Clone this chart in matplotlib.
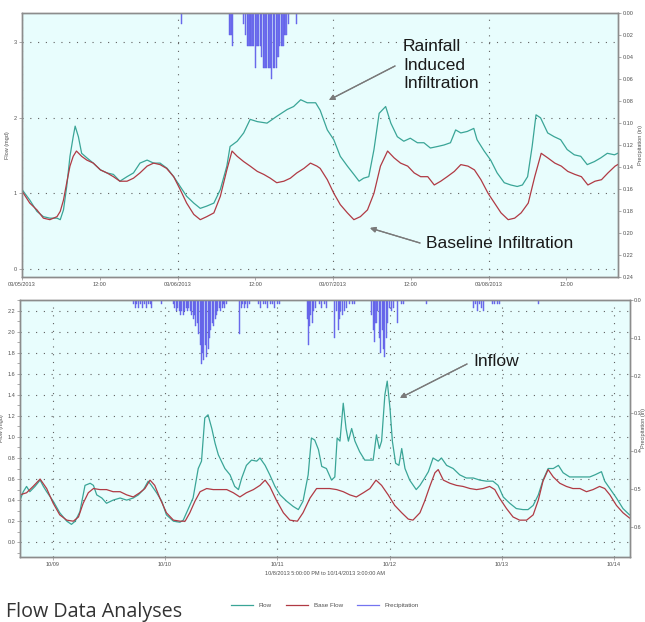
import matplotlib
matplotlib.use("Agg")
import matplotlib.pyplot as plt
from matplotlib.lines import Line2D
from matplotlib.ticker import FixedLocator, MultipleLocator, FormatStrFormatter

# ---------------- data: top panel (hours since 03/05/2013 00:00) ----------------
top_flow_hours = [0, 1.2, 2.3, 3.3, 4.3, 5.4, 5.9, 6.4, 6.9, 7.4, 7.9, 8.2, 8.7, 9.2, 10.0, 11.0, 12.1, 13.1,
                  14.1, 15.1, 16.2, 17.2, 18.2, 19.3, 20.3, 21.3, 22.4, 23.4, 24.4, 25.4, 26.5, 27.5, 28.5,
                  29.6, 30.6, 31.6, 32.1, 33.2, 34.2, 35.2, 36.3, 37.8, 39.3, 40.9, 41.9, 43.0, 44.0, 45.3,
                  46.0, 47.1, 48.1, 49.1, 50.2, 51.2, 52.0, 52.7, 53.5, 54.3, 55.1, 56.1, 56.9, 57.9, 58.9,
                  59.9, 61.0, 62.0, 63.0, 64.1, 65.1, 66.1, 66.9, 67.7, 68.7, 69.7, 70.2, 71.3, 72.3, 73.3,
                  74.4, 75.4, 76.4, 77.2, 78.0, 78.7, 79.3, 80.0, 81.1, 82.1, 83.1, 84.1, 85.2, 86.2, 87.2,
                  88.3, 89.3, 90.3, 91.4, 91.9]
top_flow = [1.05, 0.91, 0.76, 0.69, 0.67, 0.67, 0.65, 0.78, 1.09, 1.49, 1.75, 1.89, 1.75, 1.53, 1.47, 1.40,
            1.31, 1.27, 1.25, 1.16, 1.22, 1.27, 1.40, 1.44, 1.40, 1.40, 1.33, 1.22, 1.09, 0.96, 0.87, 0.80,
            0.83, 0.87, 1.05, 1.36, 1.62, 1.69, 1.80, 1.98, 1.95, 1.93, 2.02, 2.11, 2.15, 2.24, 2.20, 2.20,
            2.10, 1.84, 1.71, 1.49, 1.36, 1.25, 1.16, 1.20, 1.22, 1.58, 2.06, 2.15, 1.93, 1.75, 1.69, 1.73,
            1.67, 1.67, 1.60, 1.62, 1.64, 1.67, 1.84, 1.80, 1.82, 1.86, 1.71, 1.56, 1.44, 1.27, 1.14, 1.11,
            1.09, 1.11, 1.22, 1.62, 2.04, 2.00, 1.80, 1.75, 1.71, 1.58, 1.51, 1.49, 1.38, 1.42, 1.47, 1.53,
            1.51, 1.53]
top_base_hours = [0, 1.2, 2.3, 3.3, 4.3, 5.4, 5.9, 6.4, 6.9, 7.4, 7.9, 8.4, 9.2, 10.0, 11.0, 12.1, 13.1, 14.1,
                  15.1, 16.2, 17.2, 18.2, 19.3, 20.3, 21.3, 22.3, 23.4, 24.4, 25.4, 26.5, 27.5, 28.5, 29.6,
                  30.6, 31.6, 32.4, 33.2, 34.2, 35.2, 36.3, 37.3, 38.3, 39.3, 40.4, 41.4, 42.4, 43.5, 44.5,
                  45.5, 46.0, 47.1, 48.1, 49.1, 50.2, 51.2, 52.2, 53.3, 54.3, 55.3, 56.4, 57.4, 58.4, 59.5,
                  60.5, 61.5, 62.6, 63.6, 64.6, 65.6, 66.7, 67.7, 68.8, 69.8, 70.8, 71.9, 72.9, 73.9, 75.0,
                  76.0, 77.0, 78.1, 79.1, 80.1, 81.1, 82.2, 83.2, 84.2, 85.3, 86.3, 87.3, 88.4, 89.4, 90.4,
                  91.5, 91.9]
top_base = [1.03, 0.87, 0.78, 0.67, 0.65, 0.69, 0.76, 0.91, 1.14, 1.36, 1.49, 1.56, 1.49, 1.44, 1.40, 1.31,
            1.27, 1.22, 1.16, 1.16, 1.20, 1.27, 1.36, 1.40, 1.38, 1.33, 1.22, 1.05, 0.87, 0.72, 0.65, 0.69,
            0.74, 0.96, 1.31, 1.56, 1.49, 1.42, 1.36, 1.29, 1.25, 1.20, 1.14, 1.16, 1.20, 1.27, 1.33, 1.40,
            1.36, 1.33, 1.18, 1.00, 0.85, 0.74, 0.65, 0.69, 0.78, 1.00, 1.36, 1.56, 1.47, 1.40, 1.36, 1.27,
            1.22, 1.22, 1.11, 1.16, 1.22, 1.29, 1.38, 1.36, 1.31, 1.18, 1.00, 0.87, 0.74, 0.65, 0.67, 0.74,
            0.87, 1.22, 1.53, 1.47, 1.40, 1.36, 1.29, 1.25, 1.22, 1.11, 1.16, 1.18, 1.27, 1.36, 1.38]
top_precip_hours = [24.6, 32.0, 32.25, 32.5, 34.2, 34.5, 34.75, 35.0, 35.25, 35.5, 35.75, 36.0, 36.25, 36.5,
                    36.75, 37.0, 37.25, 37.5, 37.75, 38.0, 38.25, 38.5, 38.75, 39.0, 39.25, 39.5, 39.75,
                    40.0, 40.25, 40.5, 40.75, 41.1, 42.3]
top_precip = [0.01, 0.02, 0.02, 0.03, 0.01, 0.02, 0.03, 0.03, 0.03, 0.03, 0.03, 0.05, 0.03, 0.03, 0.03, 0.04,
              0.05, 0.05, 0.05, 0.05, 0.05, 0.06, 0.05, 0.05, 0.05, 0.04, 0.03, 0.03, 0.03, 0.02, 0.02, 0.01,
              0.01]
top_day_ticks = [0, 24, 48, 72]
top_day_labels = ["03/05/2013", "03/06/2013", "03/07/2013", "03/08/2013"]
top_noon_ticks = [12, 36, 60, 84]
top_noon_labels = ["12:00", "12:00", "12:00", "12:00"]

# ---------------- data: bottom panel (hours since 10/8/2013 17:00) ----------------
bot_flow_hours = [0, 0.7, 1.4, 2.1, 3.2, 4.3, 5.0, 5.7, 7.1, 8.5, 10.0, 11.0, 11.8, 12.8, 13.9, 15.0, 15.7,
                  16.4, 17.5, 18.5, 19.9, 21.4, 22.8, 24.2, 25.3, 26.4, 27.4, 28.1, 29.2, 30.3, 31.3, 32.8,
                  34.2, 34.9, 36.0, 37.0, 38.1, 38.8, 39.5, 40.2, 41.0, 41.7, 42.4,
                  43.8, 44.9, 45.9, 46.7, 47.4, 48.4, 49.5, 50.6, 51.3, 52.4, 53.4, 54.5, 55.6, 57.0, 58.4,
                  59.5, 60.5, 61.6, 62.3, 63.0, 63.8, 64.5, 65.5, 66.6, 67.3, 67.8, 68.4, 69.1, 69.7, 70.2,
                  70.9, 71.6, 72.6, 73.7, 74.8, 75.5, 76.2, 76.8, 77.3, 78.0, 78.5, 79.1, 79.6, 80.3, 81.0,
                  81.6, 82.3, 83.3, 84.7,
                  85.5, 86.5, 87.3, 88.3, 89.4, 90.1, 91.2, 92.6, 94.0, 95.4, 96.9, 98.3, 99.7, 101.1, 102.2,
                  103.3, 104.7, 106.1, 107.5, 108.6, 109.7, 110.8, 111.8, 112.9, 114.0, 115.1, 116.1, 117.5,
                  119.0, 120.4, 121.8, 122.9, 124.3, 125.0, 126.1, 127.5, 128.9, 130.3]
bot_flow = [0.40, 0.48, 0.53, 0.48, 0.53, 0.59, 0.53, 0.48, 0.39, 0.28, 0.20, 0.17, 0.20, 0.29, 0.54, 0.56,
            0.54, 0.45, 0.42, 0.37, 0.40, 0.42, 0.40, 0.42, 0.45, 0.50, 0.58, 0.54, 0.47, 0.39, 0.26, 0.20,
            0.19, 0.21, 0.32, 0.42, 0.70, 0.77, 1.18, 1.21, 1.08, 0.94, 0.83,
            0.70, 0.64, 0.53, 0.50, 0.61, 0.73, 0.78, 0.77, 0.80, 0.73, 0.64, 0.53, 0.45, 0.39, 0.34, 0.31,
            0.39, 0.64, 0.99, 0.97, 0.88, 0.72, 0.70, 0.59, 0.62, 0.99, 0.96, 1.32, 1.08, 0.96, 1.08, 0.96,
            0.86, 0.78, 0.78, 0.78, 1.02, 0.89, 0.96, 1.40, 1.53, 1.27, 0.96, 0.75, 0.73, 0.89, 0.70, 0.59,
            0.50,
            0.54, 0.61, 0.67, 0.80, 0.77, 0.80, 0.73, 0.70, 0.64, 0.61, 0.61, 0.59, 0.58, 0.58, 0.54, 0.43,
            0.37, 0.32, 0.31, 0.31, 0.35, 0.45, 0.59, 0.70, 0.70, 0.73, 0.66, 0.62, 0.62, 0.62, 0.62, 0.64,
            0.67, 0.58, 0.51, 0.42, 0.32, 0.26]
bot_base_hours = [0, 1.4, 2.8, 4.3, 5.7, 7.1, 8.5, 10.0, 11.4, 12.5, 13.5, 14.6, 15.7, 17.1, 18.5, 19.9, 21.4,
                  22.8, 24.2, 25.6, 26.7, 27.8, 28.8, 29.9, 31.3, 32.8, 34.2, 35.3, 36.3, 37.4, 38.5, 39.9,
                  41.3,
                  42.7, 44.2, 45.6, 47.0, 48.4, 49.9, 51.3, 52.4, 53.4, 54.8, 56.3, 57.7, 59.3, 60.5, 62.0,
                  63.4, 64.8, 66.2, 67.7, 69.1, 70.5, 71.9, 73.4, 74.8, 76.1, 77.3, 78.7, 80.1, 81.6, 83.0,
                  84.0,
                  85.5, 86.5, 87.6, 88.7, 89.4, 90.5, 91.9, 93.3, 94.7, 96.2, 97.6, 99.0, 100.4, 101.5, 102.5,
                  104.0, 105.4, 106.8, 108.3, 109.7, 110.8, 111.8, 112.9, 114.0, 115.4, 116.8, 118.2, 119.7,
                  121.1, 122.5, 123.9, 125.0, 126.1, 127.5, 128.9, 130.3]
bot_base = [0.45, 0.47, 0.53, 0.60, 0.51, 0.37, 0.26, 0.21, 0.20, 0.24, 0.37, 0.47, 0.51, 0.50, 0.50, 0.48,
            0.48, 0.45, 0.43, 0.47, 0.51, 0.59, 0.54, 0.42, 0.28, 0.21, 0.20, 0.20, 0.28, 0.39, 0.48, 0.51,
            0.50,
            0.50, 0.50, 0.47, 0.43, 0.47, 0.50, 0.54, 0.59, 0.53, 0.40, 0.28, 0.21, 0.20, 0.28, 0.42, 0.51,
            0.51, 0.51, 0.50, 0.48, 0.45, 0.43, 0.47, 0.51, 0.59, 0.54, 0.45, 0.35, 0.28, 0.22, 0.21,
            0.28, 0.39, 0.53, 0.66, 0.69, 0.59, 0.56, 0.54, 0.53, 0.51, 0.50, 0.51, 0.53, 0.50, 0.42, 0.32,
            0.24, 0.21, 0.21, 0.26, 0.40, 0.58, 0.69, 0.62, 0.56, 0.53, 0.51, 0.51, 0.48, 0.50, 0.53, 0.51,
            0.45, 0.35, 0.28, 0.23]
bot_precip_hours = [24.2, 24.6, 25.0, 25.4, 25.8, 26.2, 26.6, 27.0, 27.4, 27.8, 28.2, 30.3,
                    32.8, 33.1, 33.4, 33.7, 34.0, 34.3, 34.6, 34.9, 35.2, 35.5, 35.8, 36.1, 36.4, 36.7,
                    37.0, 37.3, 37.6, 37.9, 38.2, 38.5, 38.8, 39.0, 39.3, 39.6, 39.9, 40.2, 40.5, 40.8,
                    41.1, 41.4, 41.7, 42.0, 42.3, 42.6, 42.9, 43.2, 43.5, 43.8, 44.1,
                    47.0, 47.3, 47.6, 47.9, 48.3, 48.7, 49.1,
                    51.0, 51.5, 52.0, 52.5, 53.0, 53.5, 54.0, 54.5, 55.0, 55.5,
                    61.4, 61.6, 61.9, 62.2, 62.5, 62.8, 63.1, 64.0, 64.5, 65.0, 65.5,
                    67.3, 67.7, 68.0, 68.3, 68.6, 69.0, 69.4, 69.8, 70.5, 71.0, 71.5,
                    75.2, 75.5, 75.8, 76.1, 76.5, 76.8, 77.1, 77.4, 77.7, 78.0, 78.3, 78.6, 79.0, 79.4,
                    79.8, 80.8, 81.5, 82.0, 86.9,
                    96.9, 97.4, 97.9, 98.3, 98.6, 99.1, 101.0, 101.5, 102.0, 102.5, 110.8]
bot_precip = [0.01, 0.02, 0.01, 0.02, 0.01, 0.02, 0.01, 0.02, 0.01, 0.01, 0.02, 0.01,
              0.01, 0.02, 0.03, 0.02, 0.03, 0.04, 0.03, 0.04, 0.03, 0.02, 0.03, 0.02, 0.03, 0.04,
              0.05, 0.04, 0.07, 0.06, 0.09, 0.12, 0.17, 0.14, 0.16, 0.12, 0.15, 0.13, 0.10, 0.08,
              0.06, 0.07, 0.05, 0.04, 0.03, 0.02, 0.03, 0.02, 0.01, 0.02, 0.01,
              0.09, 0.02, 0.01, 0.02, 0.01, 0.02, 0.01,
              0.01, 0.02, 0.01, 0.01, 0.02, 0.01, 0.01, 0.02, 0.01, 0.01,
              0.05, 0.12, 0.07, 0.04, 0.06, 0.03, 0.02, 0.01, 0.02, 0.01, 0.02,
              0.10, 0.03, 0.08, 0.05, 0.03, 0.04, 0.03, 0.02, 0.01, 0.01, 0.01,
              0.04, 0.08, 0.11, 0.06, 0.03, 0.10, 0.14, 0.08, 0.13, 0.15, 0.10, 0.06, 0.02, 0.03,
              0.02, 0.06, 0.01, 0.01, 0.01,
              0.02, 0.01, 0.03, 0.01, 0.02, 0.03, 0.01, 0.01, 0.01, 0.01, 0.01]
bot_day_ticks = [7, 31, 55, 79, 103, 127]
bot_day_labels = ["10/09", "10/10", "10/11", "10/12", "10/13", "10/14"]

# ---------------- style ----------------
FLOW_C = "#3aa597"
BASE_C = "#b03a44"
PREC_C = "#7474f0"
BG = "#e8fdfd"
SPINE = "#8c8c8c"
TXT = "#505050"
GRID = dict(color="#606060", linestyle=(0, (1, 6)), linewidth=0.8)

fig = plt.figure(figsize=(6.45, 6.22), dpi=100)


def style_axes(ax, ax2):
    ax.set_facecolor(BG)
    for a in (ax, ax2):
        for s in a.spines.values():
            s.set_color(SPINE)
            s.set_linewidth(1.0)
        a.tick_params(which="both", length=2, width=0.5, color=SPINE, pad=1.5,
                      labelsize=4, labelcolor=TXT)
        for lbl in a.get_xticklabels(which="both") + a.get_yticklabels(which="both"):
            lbl.set_family("Liberation Sans")


# ---------------- top panel ----------------
ax = fig.add_axes([22 / 645, 1 - 277 / 622, (617.7 - 22) / 645, (277 - 13) / 622])
ax.plot(top_flow_hours, top_flow, color=FLOW_C, lw=0.9, zorder=3)
ax.plot(top_base_hours, top_base, color=BASE_C, lw=0.9, zorder=3)
ax.set_xlim(0, 91.9)
ax.set_ylim(-0.11, 3.39)
ax.xaxis.set_major_locator(FixedLocator(top_day_ticks))
ax.set_xticklabels(top_day_labels)
ax.xaxis.set_minor_locator(FixedLocator(top_noon_ticks))
ax.set_xticklabels(top_noon_labels, minor=True)
ax.yaxis.set_major_locator(MultipleLocator(1))
ax.yaxis.set_major_formatter(FormatStrFormatter("%d"))
ax.grid(True, which="major", **GRID)
ax.set_axisbelow(True)
ax.set_ylabel("Flow (mgd)", fontsize=4, color=TXT, family="Liberation Sans", labelpad=3)

ax2 = ax.twinx()
ax2.bar(top_precip_hours, top_precip, width=0.2, color=PREC_C, edgecolor="#5a5ae6", linewidth=0.3)
ax2.set_ylim(0.24, 0)
ax2.yaxis.set_major_locator(MultipleLocator(0.02))
ax2.yaxis.set_major_formatter(FormatStrFormatter("%.2f"))
ax2.set_ylabel("Precipitation (in)", fontsize=4, color=TXT, family="Liberation Sans", labelpad=3)
style_axes(ax, ax2)

# ---------------- bottom panel ----------------
bx = fig.add_axes([20 / 645, 1 - 557 / 622, (630 - 20) / 645, (557 - 300) / 622])
bx.plot(bot_flow_hours, bot_flow, color=FLOW_C, lw=0.9, zorder=3)
bx.plot(bot_base_hours, bot_base, color=BASE_C, lw=0.9, zorder=3)
bx.set_xlim(0, 130.4)
bx.set_ylim(-0.14, 2.30)
bx.xaxis.set_major_locator(FixedLocator(bot_day_ticks))
bx.set_xticklabels(bot_day_labels)
bx.yaxis.set_major_locator(MultipleLocator(0.2))
bx.yaxis.set_minor_locator(MultipleLocator(0.1))
bx.yaxis.set_major_formatter(FormatStrFormatter("%.1f"))
bx.grid(True, which="major", **GRID)
bx.set_axisbelow(True)
bx.set_ylabel("Flow (mgd)", fontsize=4, color=TXT, family="Liberation Sans", labelpad=2)
bx.set_xlabel("10/8/2013 5:00:00 PM to 10/14/2013 3:00:00 AM", fontsize=4, color=TXT,
              family="Liberation Sans", labelpad=3)

bx2 = bx.twinx()
bx2.bar(bot_precip_hours, bot_precip, width=0.22, color=PREC_C, edgecolor="#5a5ae6", linewidth=0.3)
bx2.set_ylim(0.68, 0)
bx2.yaxis.set_major_locator(MultipleLocator(0.1))
bx2.yaxis.set_major_formatter(FormatStrFormatter("%.1f"))
bx2.set_ylabel("Precipitation (in)", fontsize=4, color=TXT, family="Liberation Sans")
style_axes(bx, bx2)
bx2.tick_params(axis="y", pad=1.0)
bx2.yaxis.set_label_coords((640.5 - 20) / 610, 0.5)

# ---------------- annotations ----------------
ANN_FONT = dict(family="Liberation Sans", size=12.5, color="#1a1a1a")
ARROW = dict(arrowstyle="-|>", color="#7a7a7a", lw=0.9, mutation_scale=8,
             shrinkA=0, shrinkB=0)


def fpos(px, py):
    return (px / 645, 1 - py / 622)


fig.text(*fpos(403, 65), "Rainfall\nInduced\nInfiltration", ha="left", va="center",
         linespacing=1.3, **ANN_FONT)
fig.add_artist(plt.annotate("", xy=fpos(329, 100), xytext=fpos(395, 66),
                            xycoords="figure fraction", textcoords="figure fraction",
                            arrowprops=ARROW))
fig.text(*fpos(426, 243), "Baseline Infiltration", ha="left", va="center", **ANN_FONT)
fig.add_artist(plt.annotate("", xy=fpos(370, 228), xytext=fpos(420, 243),
                            xycoords="figure fraction", textcoords="figure fraction",
                            arrowprops=ARROW))
fig.text(*fpos(473, 362), "Inflow", ha="left", va="center", **ANN_FONT)
fig.add_artist(plt.annotate("", xy=fpos(400, 398), xytext=fpos(467, 364),
                            xycoords="figure fraction", textcoords="figure fraction",
                            arrowprops=ARROW))

# ---------------- legend & caption ----------------
handles = [Line2D([], [], color=FLOW_C, lw=0.9),
           Line2D([], [], color=BASE_C, lw=0.9),
           Line2D([], [], color=PREC_C, lw=0.9)]
fig.legend(handles, ["Flow", "Base Flow", "Precipitation"], loc="center",
           bbox_to_anchor=(325 / 645, 1 - 605 / 622), ncol=3, frameon=False,
           prop=dict(family="Liberation Sans", size=4.5), labelcolor=TXT,
           handlelength=3.5, handletextpad=1.0, columnspacing=2.2)

fig.text(6 / 645, 5 / 622, "Flow Data Analyses", ha="left", va="baseline",
         family="Open Sans", fontsize=14.2, color="#333333")

fig.savefig("out.png", dpi=100, facecolor="white")
